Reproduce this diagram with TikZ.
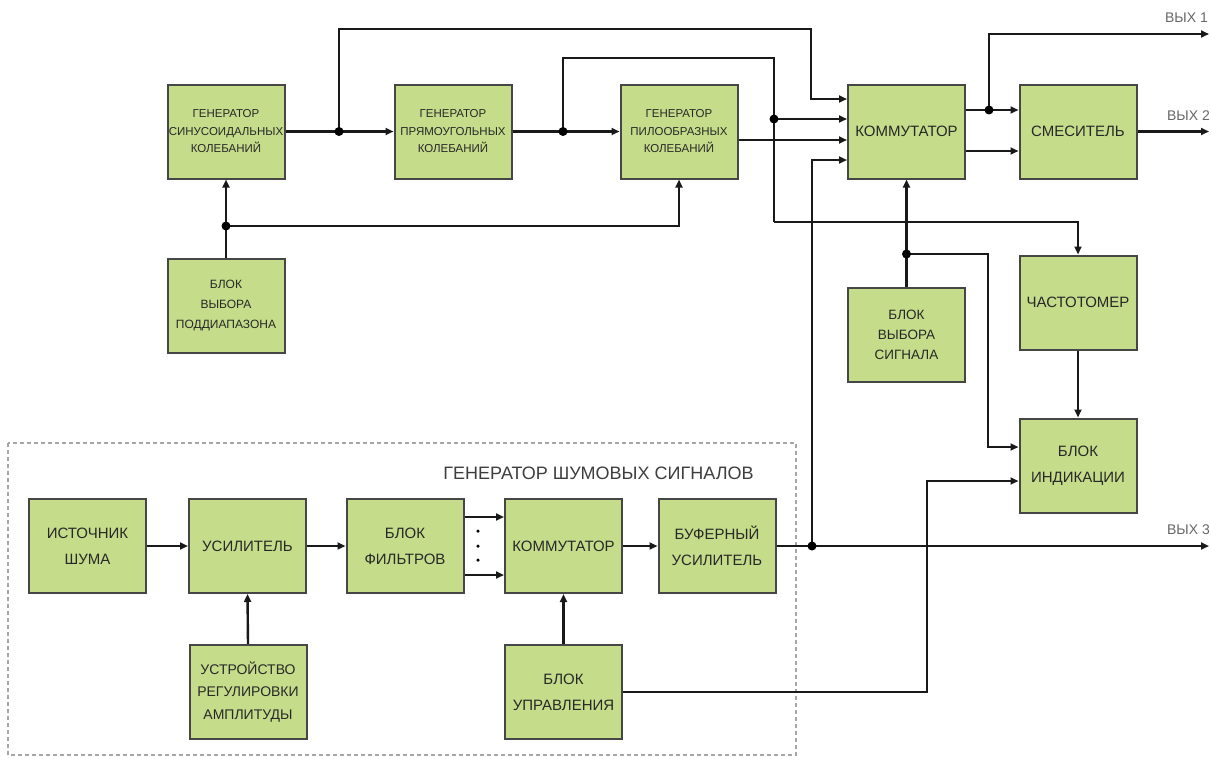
\documentclass[tikz,border=0pt]{standalone}
\usepackage{fontspec}
\setmainfont{Liberation Sans}
\usetikzlibrary{arrows.meta,calc}
\definecolor{boxfill}{RGB}{197,220,138}
\definecolor{boxline}{RGB}{70,70,70}
\definecolor{txt}{RGB}{40,40,40}
\begin{document}
\begin{tikzpicture}[x=1pt,y=-1pt,
  blk/.style={draw=boxline, line width=2pt, fill=boxfill, text=txt, align=center,
    minimum width=117pt, minimum height=94pt, inner sep=0pt},
  big/.style={font=\fontsize{15}{26}\selectfont},
  gen/.style={font=\fontsize{11.5}{17.5}\selectfont},
  conn/.style={line width=2.4pt, draw=black!90},
  arr/.style={conn, -{Triangle[length=8pt,width=7pt]}},
  dot/.style={circle, fill=black, inner sep=0pt, minimum size=9pt},
  smalldot/.style={circle, fill=black, inner sep=0pt, minimum size=3.5pt},
  outlbl/.style={text=black!60, font=\fontsize{14}{14}\selectfont, anchor=east, inner sep=0pt}
]
\useasboundingbox (0,0) rectangle (1211,758);

% noise generator frame
\draw[draw=black!35, line width=1.3pt, dash pattern=on 4pt off 3pt] (8,443) rectangle (796,755);
\node[text=txt!90, font=\fontsize{18}{18}\selectfont, inner sep=0pt] (title) at (598.5,473) {ГЕНЕРАТОР ШУМОВЫХ СИГНАЛОВ};

% blocks
\node[blk,gen] (sin) at (226,131.5) {ГЕНЕРАТОР\\СИНУСОИДАЛЬНЫХ\\КОЛЕБАНИЙ};
\node[blk,gen] (prjam) at (453,131.5) {ГЕНЕРАТОР\\ПРЯМОУГОЛЬНЫХ\\КОЛЕБАНИЙ};
\node[blk,gen] (pilo) at (679,131.5) {ГЕНЕРАТОР\\ПИЛООБРАЗНЫХ\\КОЛЕБАНИЙ};
\node[blk,big] (kom1) at (906.5,131.5) {КОММУТАТОР};
\node[blk,big] (smes) at (1078,131.5) {СМЕСИТЕЛЬ};
\node[blk,font=\fontsize{12}{20}\selectfont] (vpod) at (226,306) {БЛОК\\ВЫБОРА\\ПОДДИАПАЗОНА};
\node[blk,font=\fontsize{13.5}{20}\selectfont] (vsig) at (906.5,335) {БЛОК\\ВЫБОРА\\СИГНАЛА};
\node[blk,big] (chas) at (1078,302.5) {ЧАСТОТОМЕР};
\node[blk,big] (ind) at (1078,465.5) {БЛОК\\ИНДИКАЦИИ};
\node[blk,big] (ist) at (87.5,546) {ИСТОЧНИК\\ШУМА};
\node[blk,big] (usil) at (247.5,546) {УСИЛИТЕЛЬ};
\node[blk,big] (filt) at (405,546) {БЛОК\\ФИЛЬТРОВ};
\node[blk,big] (kom2) at (563.5,546) {КОММУТАТОР};
\node[blk,big] (buf) at (717,546) {БУФЕРНЫЙ\\УСИЛИТЕЛЬ};
\node[blk,font=\fontsize{14}{22.5}\selectfont] (ustr) at (248,692) {УСТРОЙСТВО\\РЕГУЛИРОВКИ\\АМПЛИТУДЫ};
\node[blk,big] (upr) at (563.5,692) {БЛОК\\УПРАВЛЕНИЯ};

% port coordinates
\coordinate (ki1) at ($(kom1.west)+(0,-32.5)$);
\coordinate (ki2) at ($(kom1.west)+(0,-12.5)$);
\coordinate (ki3) at ($(kom1.west)+(0,8.5)$);
\coordinate (ki4) at ($(kom1.west)+(0,28.5)$);
\coordinate (po)  at ($(pilo.east)+(0,8.5)$);
\coordinate (ko1) at ($(kom1.east)+(0,-21.5)$);
\coordinate (ko2) at ($(kom1.east)+(0,19.5)$);
\coordinate (si1) at ($(smes.west)+(0,-21.5)$);
\coordinate (si2) at ($(smes.west)+(0,19.5)$);
\coordinate (ii1) at ($(ind.west)+(0,-18.5)$);
\coordinate (ii2) at ($(ind.west)+(0,15.5)$);
\coordinate (fo1) at ($(filt.east)+(0,-29)$);
\coordinate (fo2) at ($(filt.east)+(0,29)$);
\coordinate (k2i1) at ($(kom2.west)+(0,-29)$);
\coordinate (k2i2) at ($(kom2.west)+(0,29)$);

% junctions and bends
\coordinate (j1) at (339,131.5);
\coordinate (j2) at (563,131.5);
\coordinate (j3) at (774,119);
\coordinate (j4) at (812,546);
\coordinate (j5) at (989,110);
\coordinate (j6) at (906.5,254);
\coordinate (j7) at (226,226);
\coordinate (b1) at (811,29);
\coordinate (b2) at (774,58);
\coordinate (b3) at (774,222);
\coordinate (b6) at (988,447);
\coordinate (b12) at (927,481);
\coordinate (out1) at (1209,34);
\coordinate (out2) at (1209,131.5);
\coordinate (out3) at (1209,546);

% connectors
\draw[arr] (sin.east) -- (prjam.west);
\draw[arr] (prjam.east) -- (pilo.west);
\draw[arr] (j1) |- (b1) |- (ki1);
\draw[conn] (j2) |- (b2) -- (b3);
\draw[arr] (b3) -| (chas.north);
\draw[arr] (j3) -- (ki2);
\draw[arr] (po) -- (ki3);
\draw[arr] (buf.east) -- (out3);
\draw[arr] (j4) |- (ki4);
\draw[arr] (ko1) -- (si1);
\draw[arr] (ko2) -- (si2);
\draw[arr] (j5) |- (out1);
\draw[arr] (smes.east) -- (out2);
\draw[arr] (vsig.north) -- (kom1.south);
\draw[arr] (j6) -| (b6) -- (ii1);
\draw[arr] (chas.south) -- (ind.north);
\draw[arr] (upr.east) -| (b12) -- (ii2);
\draw[arr] (upr.north) -- (kom2.south);
\draw[arr] (ustr.north) -- (usil.south);
\draw[arr] (vpod.north) -- (sin.south);
\draw[arr] (j7) -| (pilo.south);
\draw[arr] (ist.east) -- (usil.west);
\draw[arr] (usil.east) -- (filt.west);
\draw[arr] (fo1) -- (k2i1);
\draw[arr] (fo2) -- (k2i2);
\draw[arr] (kom2.east) -- (buf.west);

% junction dots
\node[dot] (d1) at (j1) {};
\node[dot] (d2) at (j2) {};
\node[dot] (d3) at (j3) {};
\node[dot] (d4) at (j4) {};
\node[dot] (d5) at (j5) {};
\node[dot] (d6) at (j6) {};
\node[dot] (d7) at (j7) {};
\node[smalldot] (f1) at (478,531) {};
\node[smalldot] (f2) at (478,546) {};
\node[smalldot] (f3) at (478,560) {};

% output labels
\node[outlbl] (l1) at (1208,18) {ВЫХ 1};
\node[outlbl] (l2) at (1210,116) {ВЫХ 2};
\node[outlbl] (l3) at (1210,530) {ВЫХ 3};
\end{tikzpicture}
\end{document}
